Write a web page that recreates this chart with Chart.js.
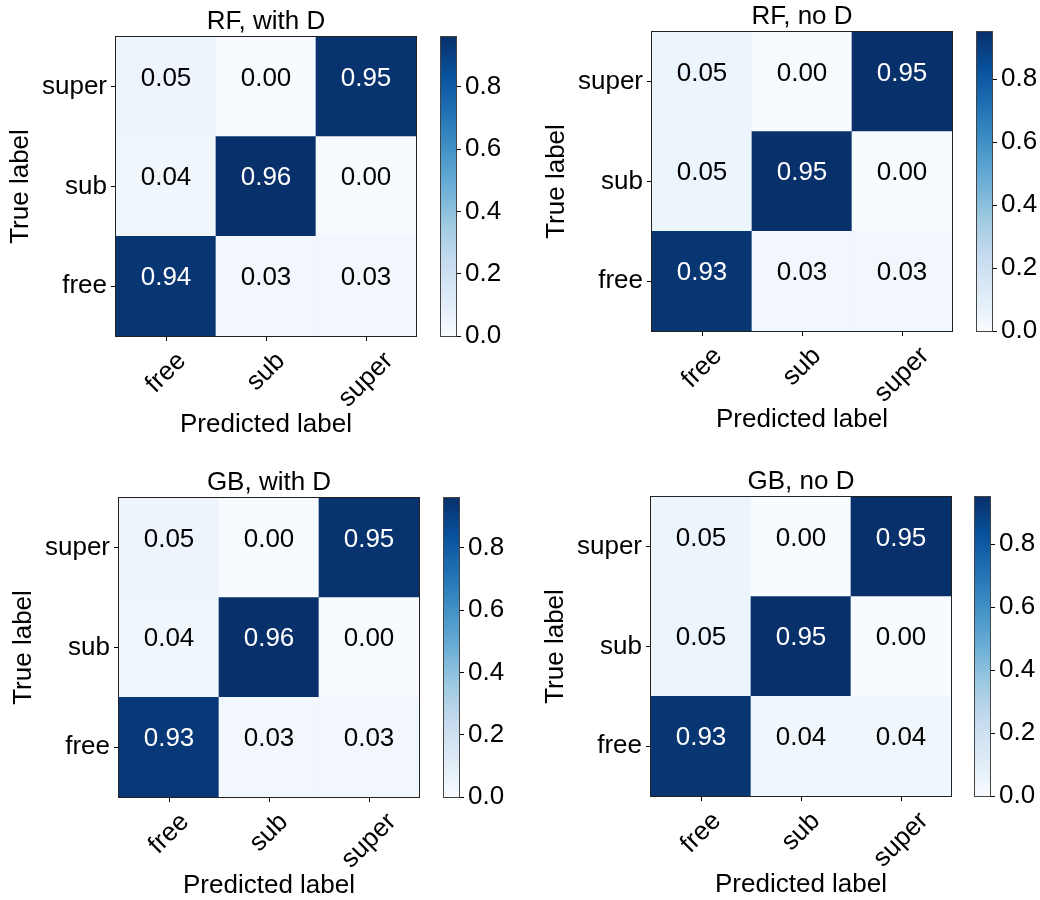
<!DOCTYPE html>
<html>
<head>
<meta charset="utf-8">
<script src="https://cdn.jsdelivr.net/npm/chart.js@4.4.1/dist/chart.umd.min.js"></script>
<style>
  body { margin: 0; background: #fff; }
  #wrap { position: relative; width: 1040px; height: 900px; }
  canvas { position: absolute; }
</style>
</head>
<body>
<div id="wrap"></div>
<script>
// class order is the same for both axes: rows = true label, columns = predicted label
const labels = ['free', 'sub', 'super'];
const titles = ['RF, with D', 'RF, no D', 'GB, with D', 'GB, no D'];

const rfWithD = [
  [0.94, 0.03, 0.03],
  [0.04, 0.96, 0.00],
  [0.05, 0.00, 0.95]
];
const rfNoD = [
  [0.93, 0.03, 0.03],
  [0.05, 0.95, 0.00],
  [0.05, 0.00, 0.95]
];
const gbWithD = [
  [0.93, 0.03, 0.03],
  [0.04, 0.96, 0.00],
  [0.05, 0.00, 0.95]
];
const gbNoD = [
  [0.93, 0.04, 0.04],
  [0.05, 0.95, 0.00],
  [0.05, 0.00, 0.95]
];

const cbTicks = [0, 0.2, 0.4, 0.6, 0.8];

// matplotlib "Blues"
const blues = ['#f7fbff', '#deebf7', '#c6dbef', '#9ecae1', '#6baed6', '#4292c6', '#2171b5', '#08519c', '#08306b'];

// where each panel's plot box sits on the page
const panels = [
  {left: 116, top: 37, cbLeft: 441},
  {left: 652, top: 32, cbLeft: 977},
  {left: 119, top: 498, cbLeft: 444},
  {left: 651, top: 497, cbLeft: 975}
];

Chart.defaults.font.family = "'Liberation Sans', Arial, Helvetica, sans-serif";
Chart.defaults.font.size = 26;
Chart.defaults.color = '#000';

const FONT = "26px 'Liberation Sans', Arial, Helvetica, sans-serif";

function hexToRgb(h) {
  const n = parseInt(h.slice(1), 16);
  return [(n >> 16) & 255, (n >> 8) & 255, n & 255];
}

function blue(t) {
  t = Math.min(Math.max(t, 0), 1) * 8;
  const i = Math.min(Math.floor(t), 7);
  const f = t - i;
  const a = hexToRgb(blues[i]), b = hexToRgb(blues[i + 1]);
  const c = a.map((v, k) => Math.round(v + (b[k] - v) * f));
  return 'rgb(' + c.join(',') + ')';
}

const frame = {
  id: 'frame',
  afterDraw(chart, args, opts) {
    const {ctx, chartArea: a} = chart;
    ctx.save();
    ctx.strokeStyle = opts.color || '#222';
    ctx.lineWidth = 1;
    ctx.strokeRect(a.left - 0.5, a.top - 0.5, a.width + 1, a.height + 1);
    ctx.restore();
  }
};

function addCanvas(left, top, w, h) {
  const c = document.createElement('canvas');
  c.width = w;
  c.height = h;
  c.style.left = left + 'px';
  c.style.top = top + 'px';
  document.getElementById('wrap').appendChild(c);
  return c;
}

function createMatrix(pos, title, matrix) {
  const vmax = Math.max(...matrix.flat());
  const canvas = addCanvas(pos.left - 111, pos.top - 32, 417, 436);

  const cellText = {
    id: 'cellText',
    afterDatasetsDraw(chart) {
      const ctx = chart.ctx;
      ctx.save();
      ctx.font = FONT;
      ctx.textAlign = 'center';
      ctx.textBaseline = 'middle';
      matrix.forEach((row, r) => {
        const meta = chart.getDatasetMeta(r);
        row.forEach((v, c) => {
          const p = meta.data[c].getCenterPoint();
          ctx.fillStyle = v > vmax / 2 ? '#fff' : '#000';
          ctx.fillText(v.toFixed(2), p.x, p.y - 8.5);
        });
      });
      ctx.restore();
    }
  };

  // rotated x labels, centred under the tick like matplotlib does
  const xTickLabels = {
    id: 'xTickLabels',
    afterDraw(chart) {
      const ctx = chart.ctx;
      const x = chart.scales.x;
      ctx.save();
      ctx.font = FONT;
      ctx.fillStyle = '#000';
      ctx.textAlign = 'center';
      ctx.textBaseline = 'middle';
      labels.forEach((lab, i) => {
        const px = x.getPixelForTick(i);
        const ext = (ctx.measureText(lab).width + 28) * Math.SQRT1_2;
        ctx.save();
        ctx.translate(px, x.top + 11 + ext / 2);
        ctx.rotate(-Math.PI / 4);
        ctx.fillText(lab, 0, 0);
        ctx.restore();
      });
      ctx.restore();
    }
  };

  new Chart(canvas, {
    type: 'bar',
    data: {
      labels: labels,
      datasets: labels.map((name, r) => ({
        label: name,
        data: labels.map(() => 1),
        backgroundColor: matrix[r].map(v => blue(v / vmax)),
        borderWidth: 0,
        barPercentage: 1,
        categoryPercentage: 1
      }))
    },
    options: {
      responsive: false,
      animation: false,
      layout: {padding: {right: 6}},
      plugins: {
        legend: {display: false},
        tooltip: {enabled: false},
        title: {
          display: true,
          text: title,
          fullSize: false,
          padding: {top: 1, bottom: -1},
          color: '#000',
          font: {size: 26, weight: 'normal', lineHeight: '32px'}
        },
        frame: {color: '#222'}
      },
      scales: {
        x: {
          stacked: true,
          offset: true,
          ticks: {display: false},
          grid: {offset: false, drawOnChartArea: false, tickLength: 5, color: '#000'},
          border: {display: false},
          title: {display: true, text: 'Predicted label', padding: 0, font: {size: 26, lineHeight: '32px'}},
          afterFit: s => { s.height = 105; }
        },
        y: {
          stacked: true,
          min: 0,
          max: 3,
          afterBuildTicks: s => { s.ticks = labels.map((_, i) => ({value: i + 0.5})); },
          ticks: {padding: 4, callback: v => labels[Math.floor(v)]},
          grid: {drawOnChartArea: false, tickLength: 5, color: '#000'},
          border: {display: false},
          title: {display: true, text: 'True label', padding: 0, font: {size: 26, lineHeight: '32px'}},
          afterFit: s => { s.width = 111; }
        }
      }
    },
    plugins: [frame, cellText, xTickLabels]
  });

  createColorbar(pos, vmax);
}

function cbGradient(chart, vmax) {
  const y = chart.scales.y;
  if (!y || !chart.chartArea) return blues[4];
  const g = chart.ctx.createLinearGradient(0, y.getPixelForValue(0), 0, y.getPixelForValue(vmax));
  blues.forEach((c, i) => g.addColorStop(i / 8, c));
  return g;
}

function createColorbar(pos, vmax) {
  const canvas = addCanvas(pos.cbLeft - 2, pos.top - 24, 79, 347);
  new Chart(canvas, {
    type: 'bar',
    data: {
      labels: [''],
      datasets: [{
        data: [vmax],
        backgroundColor: ctx => cbGradient(ctx.chart, vmax),
        borderWidth: 0,
        barPercentage: 1,
        categoryPercentage: 1
      }]
    },
    options: {
      responsive: false,
      animation: false,
      layout: {padding: {left: 2, top: 24, bottom: 24, right: 0}},
      plugins: {
        legend: {display: false},
        tooltip: {enabled: false},
        frame: {color: '#444'}
      },
      scales: {
        x: {display: false},
        y: {
          position: 'right',
          min: 0,
          max: vmax,
          afterBuildTicks: s => { s.ticks = cbTicks.map(v => ({value: v})); },
          ticks: {padding: 4, callback: v => v.toFixed(1)},
          grid: {drawOnChartArea: false, tickLength: 5, color: '#000'},
          border: {display: false},
          afterFit: s => { s.width = 62; }
        }
      }
    },
    plugins: [frame]
  });
}

[rfWithD, rfNoD, gbWithD, gbNoD].forEach((m, i) => createMatrix(panels[i], titles[i], m));
</script>
</body>
</html>
